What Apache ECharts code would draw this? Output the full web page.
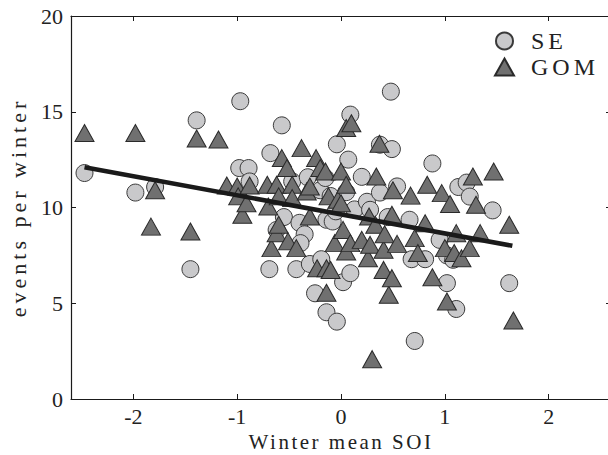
<!DOCTYPE html>
<html><head><meta charset="utf-8">
<script src="https://cdn.jsdelivr.net/npm/echarts@6/dist/echarts.min.js"></script>
<style>html,body{margin:0;padding:0;background:#fff}#c{width:608px;height:455px}</style>
</head><body><div id="c"></div>
<script>
// ---- data ----
var seX = [-2.47,-1.98,-1.79,-1.45,-1.39,-0.97,-0.98,-0.89,-0.88,-0.69,-0.68,-0.62,-0.57,-0.55,-0.47,-0.43,-0.40,-0.35,-0.39,-0.32,-0.30,-0.25,-0.20,-0.19,-0.15,-0.14,-0.14,-0.10,-0.08,-0.05,-0.04,-0.04,0.02,0.05,0.07,0.09,0.09,0.13,0.20,0.25,0.28,0.375,0.375,0.45,0.48,0.49,0.54,0.66,0.68,0.71,0.81,0.88,0.95,1.02,1.02,1.08,1.11,1.13,1.21,1.24,1.46,1.62];
var seY = [11.8,10.78,11.07,6.78,14.55,15.55,12.06,12.06,11.36,6.78,12.84,8.83,14.29,9.5,11.36,6.78,9.2,8.6,8.14,11.58,7.05,5.52,10.9,7.3,11.54,4.53,9.36,10.6,9.27,9.8,4.04,13.3,6.1,10.8,12.5,14.85,6.57,9.9,11.6,10.3,9.88,10.78,13.28,9.5,16.05,13.05,11.1,9.36,7.3,3.03,7.3,12.3,8.31,6.05,7.5,7.27,4.7,11.07,11.3,10.57,9.85,6.05];
var gomX = [-2.47,-1.98,-1.79,-1.83,-1.45,-1.39,-1.18,-1.10,-1.00,-0.99,-0.95,-0.91,-0.88,-0.71,-0.70,-0.67,-0.62,-0.62,-0.60,-0.60,-0.57,-0.52,-0.51,-0.47,-0.47,-0.43,-0.38,-0.33,-0.30,-0.30,-0.24,-0.23,-0.20,-0.15,-0.14,-0.14,-0.12,-0.10,-0.06,-0.03,0.00,0.00,0.02,0.05,0.05,0.05,0.09,0.10,0.20,0.26,0.27,0.28,0.30,0.33,0.34,0.37,0.41,0.41,0.42,0.46,0.49,0.49,0.50,0.54,0.67,0.71,0.74,0.81,0.83,0.88,0.97,1.00,1.02,1.05,1.09,1.11,1.16,1.24,1.27,1.30,1.34,1.47,1.62,1.66];
var gomY = [13.89,13.89,10.9,9.0,8.75,13.6,13.55,11.15,11.1,10.58,9.62,10.22,11.15,11.19,10.05,7.88,11.19,8.66,9.1,10.58,12.58,12.06,8.23,11.19,10.49,7.88,13.1,10.84,11.1,9.53,12.58,6.83,12.06,11.88,6.83,5.55,10.58,6.74,8.14,10.4,11.88,10.22,8.83,14.15,11.19,7.7,8.14,14.4,8.31,7.35,9.53,8.05,2.08,9.1,11.62,13.33,6.74,7.79,8.6,5.44,6.31,9.62,10.9,8.1,10.62,8.4,7.62,9.18,11.19,6.36,10.75,7.88,5.09,10.18,7.62,8.66,7.35,7.88,11.62,10.14,8.66,11.88,9.1,4.1];
var fitX = [-2.47, 1.65];
var fitY = [12.1, 8.0];
var xTicks = [-2, -1, 0, 1, 2];
var yTicks = [0, 5, 10, 15, 20];
var seriesNames = ['SE', 'GOM'];
var xTitle = 'Winter mean SOI';
var yTitle = 'events per winter';

function pairs(xs, ys){ return xs.map(function(x,i){ return [x, ys[i]]; }); }

var FONT = 'Liberation Serif';
var chart = echarts.init(document.getElementById('c'), null, {renderer:'svg'});
var axisLine = {show:true, onZero:false, lineStyle:{color:'#1a1a1a', width:1.2}};
var tick = {show:true, inside:true, length:5, lineStyle:{color:'#1a1a1a', width:1}};
chart.setOption({
  animation:false,
  backgroundColor:'#fff',
  grid:{left:71, right:-3, top:16, bottom:56, containLabel:false, outerBoundsMode:'none'},
  legend:{
    orient:'vertical', left:489, top:24, itemGap:2, itemWidth:19, itemHeight:17,
    textStyle:{fontFamily:FONT, fontSize:24, color:'#222', padding:[0,0,0,12]},
    data:[{name:seriesNames[0], icon:'circle'},{name:seriesNames[1], icon:'triangle'}]
  },
  xAxis:[{
    type:'value', min:-2.6, max:2.6, splitNumber:5, minInterval:1,
    axisLine:axisLine, axisTick:tick, splitLine:{show:false},
    axisLabel:{fontFamily:FONT, fontSize:22, color:'#222', margin:8, lineHeight:18,
      formatter:function(v){ return xTicks.indexOf(v) >= 0 ? String(v) : ''; }},
    name:xTitle, nameLocation:'middle', nameGap:34, nameMoveOverlap:false,
    nameTextStyle:{fontFamily:FONT, fontSize:21, color:'#222', lineHeight:18}
  },{
    type:'value', position:'top', min:-2.6, max:2.6, splitNumber:5, minInterval:1,
    axisLine:axisLine, axisTick:tick, axisLabel:{show:false}, splitLine:{show:false}
  }],
  yAxis:[{
    type:'value', min:yTicks[0], max:yTicks[yTicks.length-1], interval:5,
    axisLine:axisLine, axisTick:tick, splitLine:{show:false},
    axisLabel:{fontFamily:FONT, fontSize:22, color:'#222', margin:8},
    name:yTitle, nameLocation:'middle', nameGap:42, nameMoveOverlap:false,
    nameTextStyle:{fontFamily:FONT, fontSize:22, color:'#222'}
  },{
    type:'value', position:'right', min:0, max:20, interval:5,
    axisLine:axisLine, axisTick:tick, axisLabel:{show:false}, splitLine:{show:false}
  }],
  series:[{
    name:seriesNames[0], type:'scatter', symbol:'circle', symbolSize:17,
    itemStyle:{color:'#c9c9cb', borderColor:'#3a3a3a', borderWidth:1, opacity:1},
    data:pairs(seX, seY), z:2
  },{
    name:seriesNames[1], type:'scatter', symbol:'triangle', symbolSize:[19,17],
    itemStyle:{color:'#707070', borderColor:'#2a2a2a', borderWidth:1, opacity:1},
    data:pairs(gomX, gomY), z:3
  },{
    name:'fit', type:'line', data:pairs(fitX, fitY), symbol:'none',
    lineStyle:{color:'#1a1a1a', width:4.5}, z:4, silent:true
  }]
});
function spaceText(){
  var texts = document.querySelectorAll('#c svg text');
  texts.forEach(function(t){
    var s = t.textContent;
    if (s === xTitle) t.setAttribute('letter-spacing','2.5');
    if (s === yTitle) t.setAttribute('letter-spacing','4');
    if (s === seriesNames[0] || s === seriesNames[1]) t.setAttribute('letter-spacing','4');
  });
}
spaceText();
setTimeout(spaceText, 50);
chart.on('finished', spaceText);
</script>
</body></html>
